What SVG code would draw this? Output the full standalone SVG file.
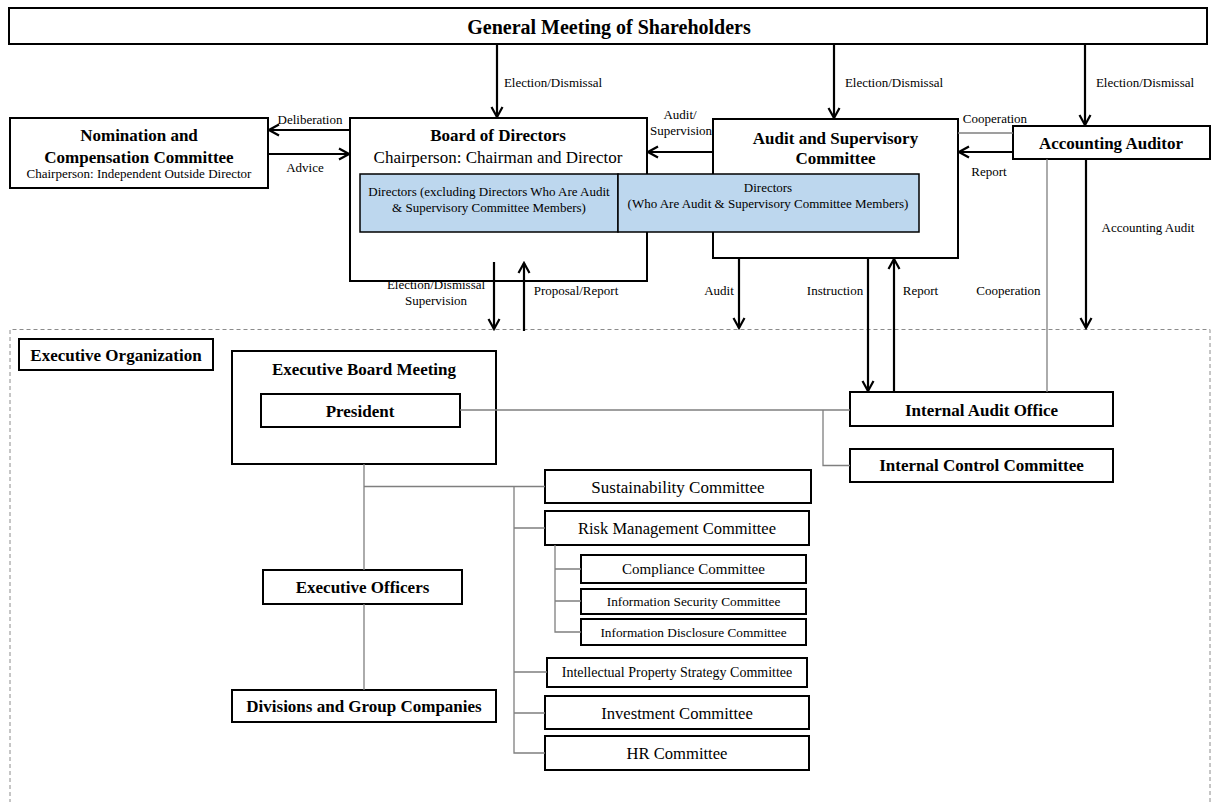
<svg xmlns="http://www.w3.org/2000/svg" width="1211" height="802" viewBox="0 0 1211 802">
<style>
text{font-family:"Liberation Serif","Times New Roman",serif;fill:#000;text-anchor:middle}
.b{font-weight:bold;font-size:17px}
.r{font-size:17px}
.l{font-size:13px}
.box{fill:#fff;stroke:#000;stroke-width:2}
.blue{fill:#bdd7ee;stroke:#000;stroke-width:1.5}
.arr{stroke:#000;stroke-width:2.2;fill:none;marker-end:url(#ah)}
.org{stroke:#7f7f7f;stroke-width:1.3;fill:none}
</style>
<defs>
<marker id="ah" markerUnits="userSpaceOnUse" markerWidth="14" markerHeight="14" viewBox="0 0 14 14" refX="12" refY="7" orient="auto">
<path d="M2,1.5 L12,7 L2,12.5" fill="none" stroke="#000" stroke-width="2.2"/>
</marker>
</defs>
<rect width="1211" height="802" fill="#fff"/>
<!-- executive organization container -->
<path d="M10,810 V329.5 H1210 V810" fill="none" stroke="#8c8c8c" stroke-width="1" stroke-dasharray="4,3"/>

<g id="gms"><rect class="box" x="9" y="8" width="1198" height="36"/><text class="b" x="609" y="34" style="font-size:20px">General Meeting of Shareholders</text></g>

<g id="nomination"><rect class="box" x="10" y="118" width="258" height="70"/>
<text class="b" x="139" y="141">Nomination and</text>
<text class="b" x="139" y="163">Compensation Committee</text>
<text class="l" x="139" y="178">Chairperson: Independent Outside Director</text></g>

<g id="bod"><rect class="box" x="350" y="118" width="297" height="163"/>
<text class="b" x="498" y="141">Board of Directors</text>
<text class="r" x="498" y="163">Chairperson: Chairman and Director</text></g>

<g id="asc"><rect class="box" x="713" y="119" width="245" height="139"/>
<text class="b" x="835.5" y="144">Audit and Supervisory</text>
<text class="b" x="835.5" y="164">Committee</text></g>

<g id="directors-excl"><rect class="blue" x="360" y="174" width="258" height="58"/>
<text class="l" x="489" y="196">Directors (excluding Directors Who Are Audit</text>
<text class="l" x="489" y="212">&amp; Supervisory Committee Members)</text></g>

<g id="directors-asc"><rect class="blue" x="618" y="174" width="301" height="58"/>
<text class="l" x="768" y="192">Directors</text>
<text class="l" x="768" y="208">(Who Are Audit &amp; Supervisory Committee Members)</text></g>

<g id="accounting-auditor"><rect class="box" x="1013" y="126" width="197" height="33"/>
<text class="b" x="1111" y="149">Accounting Auditor</text></g>

<g id="exec-org-label"><rect class="box" x="19" y="339" width="194" height="31"/>
<text class="b" x="116" y="361">Executive Organization</text></g>

<g id="ebm"><rect class="box" x="232" y="351" width="264" height="113"/>
<text class="b" x="364" y="375">Executive Board Meeting</text></g>

<g id="president"><rect class="box" x="261" y="394" width="199" height="33"/>
<text class="b" x="360" y="417">President</text></g>

<g id="iao"><rect class="box" x="850" y="392" width="263" height="34"/>
<text class="b" x="981.5" y="416">Internal Audit Office</text></g>

<g id="icc"><rect class="box" x="850" y="449" width="263" height="33"/>
<text class="b" x="981.5" y="471">Internal Control Committee</text></g>

<g id="exec-officers"><rect class="box" x="263" y="570" width="199" height="34"/>
<text class="b" x="362.5" y="593">Executive Officers</text></g>

<g id="divisions"><rect class="box" x="232" y="690" width="264" height="32"/>
<text class="b" x="364" y="712">Divisions and Group Companies</text></g>

<g id="sustainability"><rect class="box" x="545" y="470" width="266" height="33"/>
<text class="r" x="678" y="493">Sustainability Committee</text></g>

<g id="risk"><rect class="box" x="545" y="511" width="264" height="34"/>
<text class="r" x="677" y="534" style="font-size:16.5px">Risk Management Committee</text></g>

<g id="compliance"><rect class="box" x="581" y="555" width="225" height="28"/>
<text x="693.5" y="574" style="font-size:15px">Compliance Committee</text></g>

<g id="infosec"><rect class="box" x="581" y="589" width="225" height="25"/>
<text x="693.5" y="606" style="font-size:13.3px">Information Security Committee</text></g>

<g id="infodisc"><rect class="box" x="581" y="619" width="225" height="26"/>
<text x="693.5" y="637" style="font-size:13.3px">Information Disclosure Committee</text></g>

<g id="ip"><rect class="box" x="547" y="658" width="260" height="29"/>
<text x="677" y="677" style="font-size:14px">Intellectual Property Strategy Committee</text></g>

<g id="investment"><rect class="box" x="545" y="696" width="264" height="33"/>
<text class="r" x="677" y="719" style="font-size:16.6px">Investment Committee</text></g>

<g id="hr"><rect class="box" x="545" y="736" width="264" height="34"/>
<text class="r" x="677" y="759" style="font-size:16.6px">HR Committee</text></g>

<g id="connectors">
<line class="arr" x1="497" y1="44" x2="497" y2="117"/>
<line class="arr" x1="834" y1="44" x2="834" y2="118"/>
<line class="arr" x1="1085" y1="44" x2="1085" y2="125"/>
<line class="arr" x1="350" y1="130" x2="269" y2="130"/>
<line class="arr" x1="268" y1="154" x2="349" y2="154"/>
<line class="arr" x1="713" y1="152" x2="648" y2="152"/>
<line class="arr" x1="1013" y1="152" x2="959" y2="152"/>
<line class="org" x1="958" y1="133" x2="1013" y2="133"/>
<line class="arr" x1="494" y1="262" x2="494" y2="329"/>
<line class="arr" x1="524" y1="331" x2="524" y2="263"/>
<line class="arr" x1="739" y1="258" x2="739" y2="328"/>
<line class="arr" x1="868" y1="258" x2="868" y2="391"/>
<line class="arr" x1="894" y1="392" x2="894" y2="259"/>
<line class="arr" x1="1086" y1="159" x2="1086" y2="328"/>
<line class="org" x1="1047" y1="159" x2="1047" y2="392"/>
<line class="org" x1="460" y1="410" x2="850" y2="410"/>
<path class="org" d="M823,410 V465.5 H850"/>
<line class="org" x1="364" y1="464" x2="364" y2="570"/>
<line class="org" x1="364" y1="604" x2="364" y2="690"/>
<path class="org" d="M364,486.5 H545 M514,486.5 V753 H545 M514,528 H545 M514,672 H547 M514,713 H545"/>
<path class="org" d="M555,545 V632 H581 M555,569 H581 M555,601 H581"/>
</g>

<g id="labels">
<text class="l" x="553" y="87">Election/Dismissal</text>
<text class="l" x="894" y="87">Election/Dismissal</text>
<text class="l" x="1145" y="87">Election/Dismissal</text>
<text class="l" x="310" y="124">Deliberation</text>
<text class="l" x="305" y="172">Advice</text>
<text class="l" x="680" y="119">Audit/</text>
<text class="l" x="681" y="135">Supervision</text>
<text class="l" x="995" y="123">Cooperation</text>
<text class="l" x="989" y="176">Report</text>
<text class="l" x="1148" y="232">Accounting Audit</text>
<text class="l" x="436" y="289">Election/Dismissal</text>
<text class="l" x="436" y="305">Supervision</text>
<text class="l" x="576" y="295">Proposal/Report</text>
<text class="l" x="719" y="295">Audit</text>
<text class="l" x="835" y="295">Instruction</text>
<text class="l" x="920.5" y="295">Report</text>
<text class="l" x="1008.5" y="295">Cooperation</text>
</g>
</svg>
